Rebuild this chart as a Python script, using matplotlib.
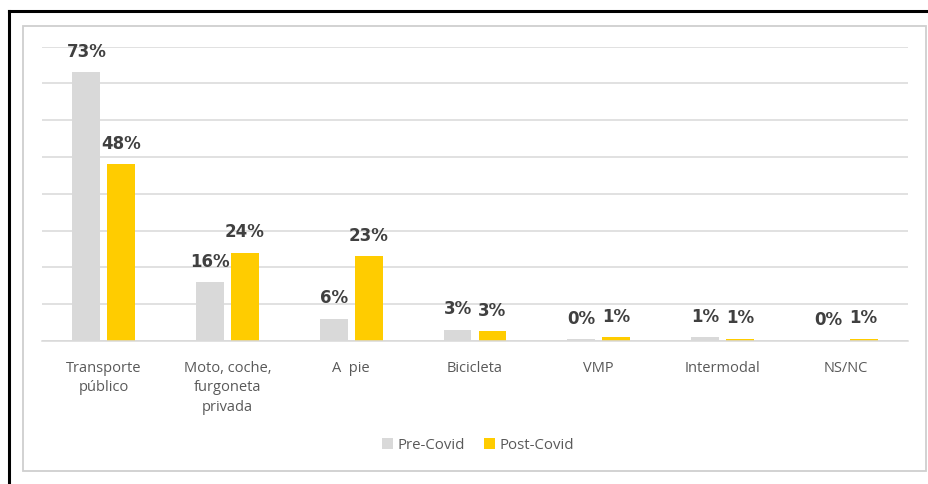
import numpy as np
import matplotlib.pyplot as plt
from matplotlib.patches import Rectangle
from matplotlib.lines import Line2D

# modos de transporte, reparto pre / post covid (%)
categorias = ["Transporte\npúblico", "Moto, coche,\nfurgoneta\nprivada", "A  pie",
              "Bicicleta", "VMP", "Intermodal", "NS/NC"]
pre_covid = [73, 16, 6, 3, 0.45, 1.0, 0.1]
post_covid = [48, 24, 23, 2.6, 1.0, 0.6, 0.6]
series = ["Pre-Covid", "Post-Covid"]

GRIS = "#D9D9D9"
AMARILLO = "#FFCC00"
TEXTO = "#404040"
ETIQ = "#595959"

plt.rcParams["font.family"] = ["Open Sans", "DejaVu Sans"]

W, H = 929, 485
fig = plt.figure(figsize=(W / 100, H / 100), dpi=100)

# marco exterior (solo arriba e izquierda) y recuadro gris del gráfico
fig.add_artist(Line2D([9 / W, 1], [1 - 12 / H, 1 - 12 / H], color="black", lw=2.2))
fig.add_artist(Line2D([9 / W, 9 / W], [0, 1 - 12 / H], color="black", lw=2.2))
fig.add_artist(Rectangle((23 / W, 1 - 472 / H), (926 - 23) / W, (472 - 27) / H,
                         fill=False, edgecolor="#CFCFCF", lw=1.3))

left, right, top, bottom = 42, 908, 47.7, 342
ax = fig.add_axes([left / W, 1 - bottom / H, (right - left) / W, (bottom - top) / H])

x = np.arange(len(categorias))
ancho = 0.226
sep = 0.0283
b1 = ax.bar(x - ancho / 2 - sep, pre_covid, ancho, color=GRIS, label=series[0], zorder=2)
b2 = ax.bar(x + ancho / 2 + sep, post_covid, ancho, color=AMARILLO, label=series[1], zorder=2)

for barras in (b1, b2):
    for b in barras:
        v = b.get_height()
        ax.annotate(f"{v:.0f}%", (b.get_x() + b.get_width() / 2, v),
                    xytext=(0, 9), textcoords="offset points",
                    ha="center", va="bottom", fontsize=12, fontweight="bold",
                    family="DejaVu Sans", color=TEXTO, clip_on=False)

ax.set_xlim(-0.5, len(categorias) - 0.5)
ax.set_ylim(0, 80)
ax.set_yticks(np.arange(0, 81, 10))
ax.yaxis.grid(True, color=GRIS, lw=1.1, zorder=0)
ax.set_axisbelow(True)
ax.tick_params(axis="y", left=False, labelleft=False)
ax.tick_params(axis="x", bottom=False, pad=10, labelsize=10.5, labelcolor=ETIQ)
ax.set_xticks(x)
ax.set_xticklabels(categorias, linespacing=1.4, va="top")
for s in ("top", "right", "left"):
    ax.spines[s].set_visible(False)
ax.spines["bottom"].set_color(GRIS)
ax.spines["bottom"].set_linewidth(1.1)

fig.legend(handles=[b1, b2], labels=series, loc="center",
           bbox_to_anchor=(478 / W, 1 - 446 / H), ncol=2, frameon=False,
           fontsize=10.8, labelcolor=ETIQ, handlelength=0.7, handleheight=0.7,
           handletextpad=0.3, columnspacing=1.3)

fig.savefig("out.png", dpi=100)
